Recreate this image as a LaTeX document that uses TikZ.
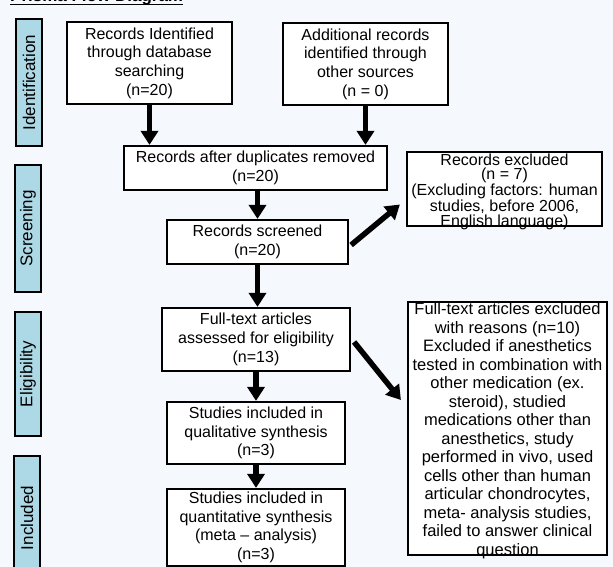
\documentclass[tikz,border=0pt]{standalone}
\usepackage{fontspec}
\setmainfont{Liberation Sans}
\usetikzlibrary{arrows.meta}
\definecolor{bgc}{HTML}{F5F9FD}
\definecolor{phase}{HTML}{ADD8E6}
\tikzset{
  flowbox/.style={draw=black, line width=2.2pt, fill=white, align=center, inner sep=0pt,
    font=\fontsize{16}{18.7}\selectfont},
  plaintext/.style={align=center, inner sep=0pt},
  phasebox/.style={draw=black, line width=2.2pt, fill=phase, inner sep=0pt, rotate=90,
    font=\fontsize{17}{20}\selectfont},
  bigarrow/.style={line width=5.5pt, -{Triangle[width=17pt,length=14pt]}, shorten >=0pt},
}
\begin{document}
\begin{tikzpicture}[x=1pt,y=-1pt]
\fill[bgc] (0,0) rectangle (613,567);
\useasboundingbox (0,0) rectangle (613,567);
% title (cropped at top)
\node[anchor=base west, inner sep=0pt, font=\fontsize{17}{20}\selectfont\bfseries] (title) at (10,2) {Prisma Flow Diagram};
\draw[line width=1.4pt] (10,4.6) -- (183,4.6);
% phase labels
\node[phasebox, minimum width=127pt, minimum height=26pt] (pid) at (29,82.5) {Identification};
\node[phasebox, minimum width=127pt, minimum height=26pt] (psc) at (28,228.5) {Screening};
\node[phasebox, minimum width=124pt, minimum height=26pt] (pel) at (28,374) {Eligibility};
\node[phasebox, minimum width=124pt, minimum height=26pt] (pin) at (27,518) {Included};
% main boxes
\node[flowbox, minimum width=165pt, minimum height=82pt] (b1) at (149.5,63) {Records Identified\\through database\\searching\\(n=20)};
\node[flowbox, minimum width=165pt, minimum height=82pt] (b2) at (365.5,64) {Additional records\\identified through\\other sources\\(n = 0)};
\node[flowbox, minimum width=263pt, minimum height=44pt] (b3) at (255.5,168) {Records after duplicates removed\\(n=20)};
\node[flowbox, minimum width=181pt, minimum height=44pt] (b4) at (257.5,242) {Records screened\\(n=20)};
\node[flowbox, minimum width=195pt, minimum height=74pt] (e1) at (504.5,189) {};
\node[plaintext, font=\fontsize{16}{14.5}\selectfont] (e1t) at (504.5,191.5) {Records excluded\\(n = 7)\\(Excluding factors: human\\studies, before 2006,\\English language)};
\node[flowbox, minimum width=188pt, minimum height=63pt] (b6) at (256,339.5) {Full-text articles\\assessed for eligibility\\(n=13)};
\node[flowbox, minimum width=199pt, minimum height=253pt] (e2) at (507.5,428.5) {};
\node[plaintext, font=\fontsize{16.5}{18.5}\selectfont] (e2t) at (507.5,430.5) {Full-text articles excluded\\with reasons (n=10)\\Excluded if anesthetics\\tested in combination with\\other medication (ex.\\steroid), studied\\medications other than\\anesthetics, study\\performed in vivo, used\\cells other than human\\articular chondrocytes,\\meta- analysis studies,\\failed to answer clinical\\question};
\node[flowbox, minimum width=178pt, minimum height=62pt] (b7) at (256,433) {Studies included in\\qualitative synthesis\\(n=3)};
\node[flowbox, minimum width=178pt, minimum height=77pt] (b8) at (256,527.5) {Studies included in\\quantitative synthesis\\(meta -- analysis)\\(n=3)};
% arrows
\draw[bigarrow] (b1.south) -- (b1.south |- b3.north);
\draw[bigarrow] (b2.south) -- (b2.south |- b3.north);
\draw[bigarrow] (b3.south -| b4.north) -- (b4.north);
\draw[bigarrow] (b4.south) -- (b4.south |- b6.north);
\draw[bigarrow] ([xshift=2pt,yshift=-3pt]b4.east) -- ([xshift=-6pt,yshift=-15.5pt]e1.west);
\draw[bigarrow] ([xshift=3pt,yshift=-2.5pt]b6.east) -- ([xshift=-6pt,yshift=28.5pt]e2.west);
\draw[bigarrow] (b6.south) -- (b6.south |- b7.north);
\draw[bigarrow] (b7.south) -- (b8.north);
\end{tikzpicture}
\end{document}
